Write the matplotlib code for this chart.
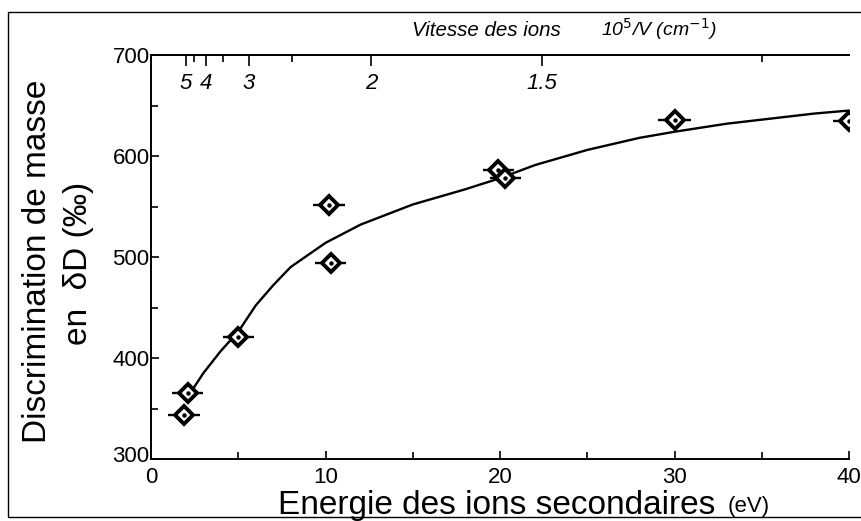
import matplotlib
matplotlib.use("Agg")
import matplotlib.pyplot as plt
import matplotlib.patches as mpatches
import matplotlib.transforms as mtransforms
import numpy as np

plt.rcParams['font.family'] = ['Liberation Sans', 'DejaVu Sans']

# Measurements: ion energy (eV), mass discrimination dD (permil), energy spread (eV)
energy = [1.9, 2.1, 5.0, 10.2, 10.3, 19.9, 20.3, 30.0, 40.0]
delta_d = [344, 365, 421, 551, 494, 586, 578, 636, 635]
energy_err = [0.9, 0.9, 0.9, 0.9, 0.9, 0.9, 0.9, 0.95, 0.9]

# Trend curve through the data
curve_e = [2.2, 3, 4, 5, 6, 7, 8, 10, 12, 15, 18, 20, 22, 25, 28, 30, 33, 36, 38, 40]
curve_d = [364, 385, 407, 426, 452, 472, 490, 514, 532, 552, 567, 578, 591,
           606, 618, 624, 632, 638, 642, 645]

# Upper scale: 10^5 / V, with V proportional to sqrt(E)
inv_speed_major = [5, 4, 3, 2, 1.5]
inv_speed_minor = [4.5, 3.5, 2.5, 1.2]
inv_speed_labels = ['5', '4', '3', '2', '1.5']
speed_const = 7.1  # 10^5/V = speed_const / sqrt(E)

fig = plt.figure(figsize=(8.61, 5.21), dpi=100)
ax = fig.add_axes([151 / 861, 1 - 459 / 521, (849 - 151) / 861, (459 - 55) / 521])

ax.plot(curve_e, curve_d, color='black', lw=1.7, zorder=2)
ax.errorbar(energy, delta_d, xerr=energy_err, fmt='D', ms=9, mfc='white',
            mec='black', mew=2.8, ecolor='black', elinewidth=1.7, capsize=0,
            zorder=3)
ax.plot(energy, delta_d, linestyle='none', marker='o', ms=2.2, color='black',
        zorder=4)

ax.set_xlim(0, 40)
ax.set_ylim(300, 700)
ax.set_xticks([0, 10, 20, 30, 40])
ax.set_xticks([5, 15, 25, 35], minor=True)
ax.set_yticks([300, 400, 500, 600, 700])
ax.set_yticks([350, 450, 550, 650], minor=True)
ax.tick_params(axis='both', which='both', direction='in', labelsize=16,
               width=1.2)
ax.tick_params(axis='both', which='major', length=6)
ax.tick_params(axis='both', which='minor', length=5)
ax.tick_params(axis='x', pad=6)
ax.tick_params(axis='y', pad=1)
ax.spines['right'].set_visible(False)
for s in ['left', 'bottom', 'top']:
    ax.spines[s].set_linewidth(1.4)

# lift the lowest y label a little so it clears the "0" below it
fig.canvas.draw()
low_lbl = ax.get_yticklabels()[0]
low_lbl.set_transform(low_lbl.get_transform() +
                      mtransforms.ScaledTranslation(0, 5 / 100, fig.dpi_scale_trans))

fig.text(278 / 861, 1 - 514 / 521, 'Energie des ions secondaires', fontsize=24,
         va='baseline', ha='left')
fig.text(728 / 861, 1 - 512 / 521, '(eV)', fontsize=16, va='baseline', ha='left')

fig.text(38 / 861, 1 - 261 / 521, 'Discrimination de masse', fontsize=24,
         rotation=90, va='center', ha='center')
fig.text(78 / 861, 1 - 263 / 521, 'en  \u03b4D (\u2030)', fontsize=24,
         rotation=90, va='center', ha='center')

# Upper axis: inverse ion speed, ticks placed at matching energies
ax2 = ax.twiny()
ax2.set_xlim(ax.get_xlim())
ax2.set_xticks([(speed_const / v) ** 2 for v in inv_speed_major])
ax2.set_xticklabels(inv_speed_labels, fontstyle='italic')
ax2.set_xticks([(speed_const / v) ** 2 for v in inv_speed_minor], minor=True)
ax2.tick_params(axis='x', which='both', direction='in', labelsize=16,
                pad=-28, width=1.2)
ax2.tick_params(axis='x', which='major', length=8)
ax2.tick_params(axis='x', which='minor', length=5)
for s in ['left', 'right', 'bottom']:
    ax2.spines[s].set_visible(False)
ax2.spines['top'].set_linewidth(1.4)

fig.text(412 / 861, 1 - 36 / 521, 'Vitesse des ions',
         fontsize=14.8, fontstyle='italic', va='baseline', ha='left')
fig.text(601 / 861, 1 - 36 / 521, '10$^5$/V (cm$^{-1}$)',
         fontsize=14, fontstyle='italic', va='baseline', ha='left')

# Frame around the whole figure
fig.patches.append(mpatches.Rectangle((8 / 861, 4 / 521), 1.2, 1 - 16 / 521,
                                      transform=fig.transFigure, fill=False,
                                      lw=1.0, edgecolor='black'))

fig.savefig('out.png', dpi=100)
